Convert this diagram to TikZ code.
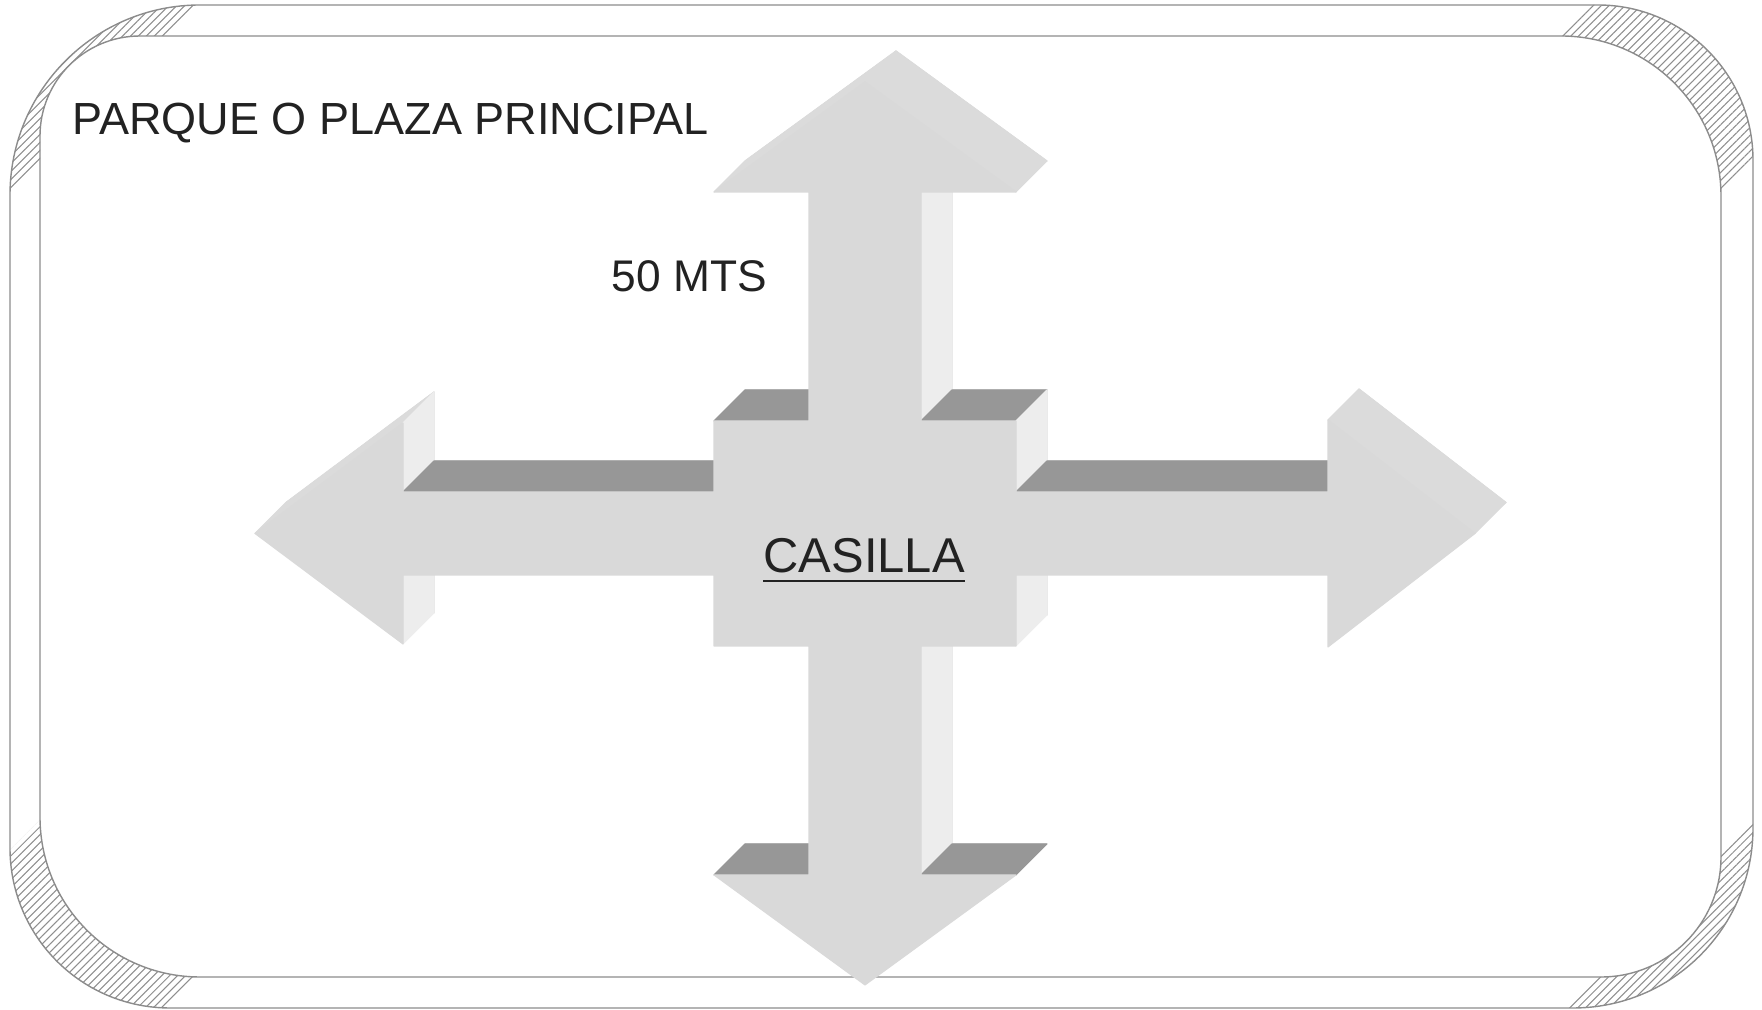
\documentclass[tikz,border=0pt]{standalone}
\usepackage{fontspec}
\setmainfont{Liberation Sans}
\usetikzlibrary{calc,patterns.meta}
\definecolor{facefront}{HTML}{D9D9D9}
\definecolor{facetop}{HTML}{979797}
\definecolor{faceright}{HTML}{EDEDED}
\definecolor{faceslope}{HTML}{DBDBDB}
\definecolor{frameline}{HTML}{8C8C8C}
\definecolor{hatchline}{HTML}{8E8E8E}
\definecolor{inktext}{HTML}{222222}
\tikzset{
  frontface/.style={fill=facefront, draw=facefront, line width=0.3pt, line join=round},
  topface/.style={fill=facetop, draw=facetop, line width=0.3pt, line join=round},
  rightface/.style={fill=faceright, draw=faceright, line width=0.3pt, line join=round},
  slopeface/.style={fill=faceslope, draw=faceslope, line width=0.3pt, line join=round},
  framestroke/.style={draw=frameline, line width=0.4pt},
  hatchfill/.style={pattern={Lines[angle=45,distance=1.6pt,line width=0.3pt]}, pattern color=hatchline},
  label/.style={inner sep=0pt, text=inktext}
}
\newcommand\crossshape[1]{\fill[#1] (865,82) -- (1016,192) -- (921,192) -- (921,421) -- (1016,421) -- (1016,492) -- (1328,492) -- (1328,420) -- (1475,533.5) -- (1328,647) -- (1328,575) -- (1016,575) -- (1016,646) -- (921,646) -- (921,875) -- (1016,875) -- (865,985) -- (714,875) -- (809,875) -- (809,646) -- (714,646) -- (714,575) -- (403,575) -- (403,644) -- (255,533.5) -- (403,423) -- (403,492) -- (714,492) -- (714,421) -- (809,421) -- (809,192) -- (714,192) -- cycle;}
\newcommand\sideface[3]{\fill[#1] (#2) -- (#3) -- ($(#3)+(31,-31)$) -- ($(#2)+(31,-31)$) -- cycle;}
\newcommand\bandfill{\fill[hatchfill, even odd rule]
  (200,5) -- (1598,5) .. controls (1683.6,5) and (1753,74.4) .. (1753,160) -- (1753,828) .. controls (1753,927.4) and (1672.4,1008) .. (1573,1008) -- (170,1008) .. controls (81.6,1008) and (10,936.4) .. (10,848) -- (10,195) .. controls (10,90.1) and (95.1,5) .. (200,5) -- cycle
  (140,36) -- (1561,36) .. controls (1649.4,36) and (1721,107.6) .. (1721,196) -- (1721,857) .. controls (1721,923.3) and (1667.3,977) .. (1601,977) -- (200,977) .. controls (111.6,977) and (40,905.4) .. (40,817) -- (40,136) .. controls (40,80.8) and (84.8,36) .. (140,36) -- cycle;}
\newcommand\hatchcorner[1]{\begin{scope}\clip #1; \bandfill\end{scope}}
\begin{document}
\begin{tikzpicture}[x=0.01cm,y=-0.01cm]
\useasboundingbox (0,0) rectangle (1762,1010);
\fill[white] (0,0) rectangle (1762,1010);
% hatched corners of the frame
\hatchcorner{(0,0) -- (204,0) -- (0,204) -- cycle}
\hatchcorner{(1598,0) -- (1913,0) -- (1600,313) -- (1285,313) -- cycle}
\hatchcorner{(1561,1010) -- (1762,1010) -- (1762,809) -- cycle}
\hatchcorner{(0,860) -- (300,560) -- (300,876) -- (0,1176) -- cycle}
% frame outlines
\draw[framestroke] (200,5) -- (1598,5) .. controls (1683.6,5) and (1753,74.4) .. (1753,160) -- (1753,828) .. controls (1753,927.4) and (1672.4,1008) .. (1573,1008) -- (170,1008) .. controls (81.6,1008) and (10,936.4) .. (10,848) -- (10,195) .. controls (10,90.1) and (95.1,5) .. (200,5) -- cycle;
\draw[framestroke] (140,36) -- (1561,36) .. controls (1649.4,36) and (1721,107.6) .. (1721,196) -- (1721,857) .. controls (1721,923.3) and (1667.3,977) .. (1601,977) -- (200,977) .. controls (111.6,977) and (40,905.4) .. (40,817) -- (40,136) .. controls (40,80.8) and (84.8,36) .. (140,36) -- cycle;
% 3D cross arrow: back face
\crossshape{frontface, shift={(31,-31)}}
% visible side faces
\sideface{slopeface}{865,82}{1016,192}
\sideface{rightface}{921,192}{921,421}
\sideface{topface}{921,421}{1016,421}
\sideface{rightface}{1016,421}{1016,492}
\sideface{topface}{1016,492}{1328,492}
\sideface{slopeface}{1328,420}{1475,533.5}
\sideface{rightface}{1016,575}{1016,646}
\sideface{rightface}{921,646}{921,875}
\sideface{topface}{921,875}{1016,875}
\sideface{topface}{714,875}{809,875}
\sideface{rightface}{403,575}{403,644}
\sideface{slopeface}{255,533.5}{403,423}
\sideface{rightface}{403,423}{403,492}
\sideface{topface}{403,492}{714,492}
\sideface{topface}{714,421}{809,421}
\sideface{slopeface}{714,192}{865,82}
% front face
\crossshape{frontface}
% texts
\node[label, anchor=base west, font=\fontsize{12.8pt}{15pt}\selectfont] (parque) at (72,135) {PARQUE O PLAZA PRINCIPAL};
\node[label, anchor=base west, font=\fontsize{12.6pt}{15pt}\selectfont] (mts) at (611,292) {50 MTS};
\node[label, anchor=base west, font=\fontsize{13.9pt}{16pt}\selectfont] (casilla) at (763,573) {CASILLA};
\draw[inktext, line width=0.6pt] ([yshift=-0.08cm]casilla.base west) -- ([yshift=-0.08cm]casilla.base east);
\end{tikzpicture}
\end{document}
